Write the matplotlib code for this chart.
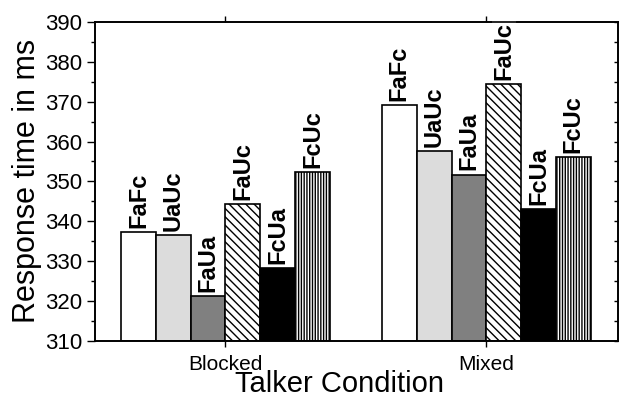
import numpy as np
import matplotlib.pyplot as plt
from matplotlib.ticker import MultipleLocator

plt.rcParams['font.family'] = ['Liberation Sans', 'DejaVu Sans']
plt.rcParams['hatch.linewidth'] = 1.0

# Datos
condiciones = ['Blocked', 'Mixed']
series = ['FaFc', 'UaUc', 'FaUa', 'FaUc', 'FcUa', 'FcUc']
blocked = [337.3, 336.6, 321.3, 344.4, 328.3, 352.4]
mixed = [369.1, 357.6, 351.7, 374.4, 343.0, 356.1]

colores = ['white', '#dcdcdc', '#808080', 'white', 'black', 'white']
tramas = [None, None, None, '\\\\\\\\', None, '||||||']

fig = plt.figure(figsize=(6.19, 4.04), dpi=100)
ax = fig.add_axes([0.1535, 0.156, 0.845, 0.79])

x = np.arange(len(condiciones))
ancho = 0.8 / len(series)
valores = np.array([blocked, mixed])

for i, nombre in enumerate(series):
    pos = x - 0.4 + ancho * (i + 0.5)
    ax.bar(pos, valores[:, i] - 310, ancho, bottom=310,
           color=colores[i], edgecolor='black', linewidth=1.2,
           hatch=tramas[i])
    for p, v in zip(pos, valores[:, i]):
        ax.annotate(nombre, (p, v), xytext=(0, 3), textcoords='offset points',
                    rotation=90, ha='center', va='bottom', fontsize=17,
                    fontweight='bold',
                    bbox=dict(facecolor='white', edgecolor='none', pad=0.5))

# Límites
ax.set_xlim(-0.5, 1.505)
ax.set_ylim(310, 390)

# Ticks
ax.set_xticks(x)
ax.set_xticklabels(condiciones, fontsize=15)
ax.yaxis.set_major_locator(MultipleLocator(10))
ax.yaxis.set_minor_locator(MultipleLocator(5))
ax.tick_params(axis='y', which='major', direction='out', length=6, width=1, labelsize=16, pad=3)
ax.tick_params(axis='y', which='minor', direction='out', length=3, width=1)
ax.tick_params(axis='x', direction='out', length=4, width=1, top=True, pad=6)

# Eje derecho con ticks hacia dentro
ax2 = ax.twinx()
ax2.set_ylim(310, 390)
ax2.yaxis.set_major_locator(MultipleLocator(5))
ax2.tick_params(axis='y', direction='in', length=3, width=1, labelright=False)

for a in (ax, ax2):
    for s in a.spines.values():
        s.set_linewidth(1.2)

# Etiquetas
ax.set_xlabel('Talker Condition', fontsize=21, labelpad=0)
ax.xaxis.set_label_coords(0.468, -0.135, transform=ax.transAxes)
ax.xaxis.label.set_va('center')
ax.set_ylabel('Response time in ms', fontsize=22, labelpad=2)

fig.savefig('out.png', dpi=100)
